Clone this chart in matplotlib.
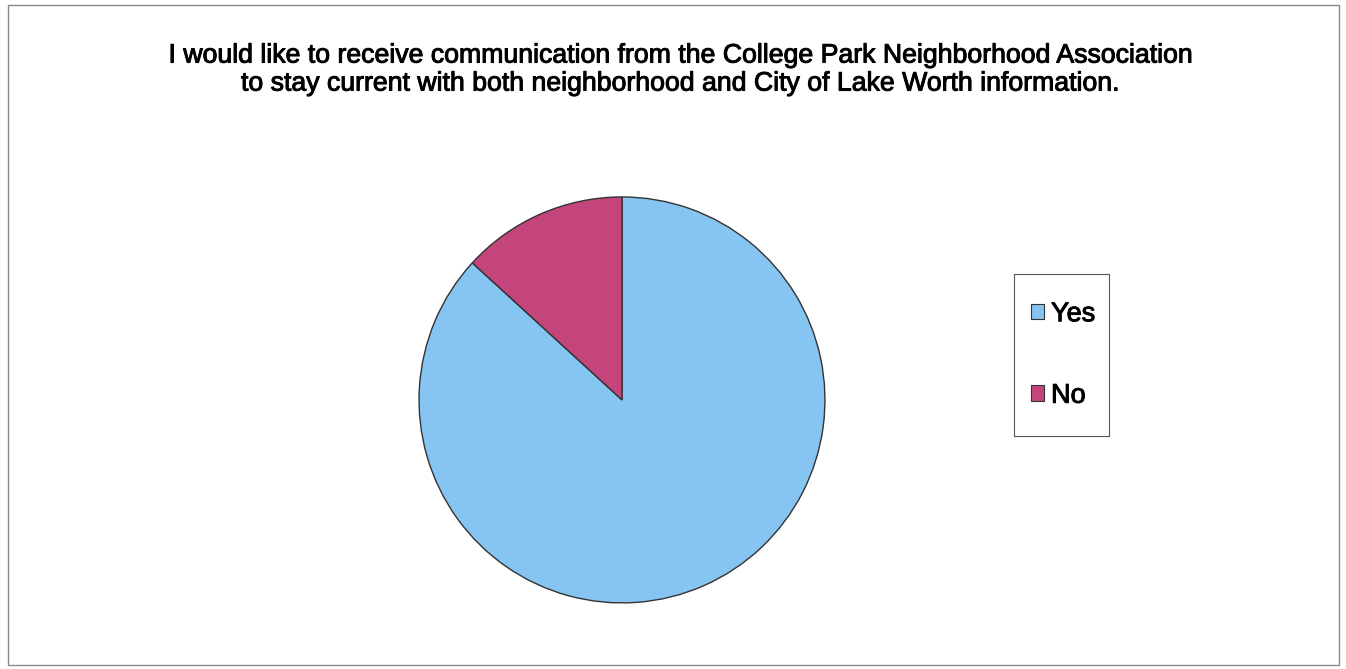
import matplotlib.pyplot as plt
import matplotlib.patheffects as pe
from matplotlib.patches import Rectangle

# survey answers (share of respondents)
labels = ["Yes", "No"]
shares = [86.8, 13.2]
colors = ["#86C5F2", "#C4457C"]

title = ("I would like to receive communication from the College Park Neighborhood Association\n"
         "to stay current with both neighborhood and City of Lake Worth information.")

plt.rcParams['font.family'] = ['Liberation Sans', 'DejaVu Sans']

W, H = 1346, 669
fig = plt.figure(figsize=(W / 100, H / 100), dpi=100)
fig.patch.set_facecolor("white")

# thin frame around the whole chart area
fig.patches.append(Rectangle((0.006, 0.006), 0.989, 0.986, transform=fig.transFigure,
                             fill=False, edgecolor="#8a8a8a", linewidth=1.0))

heavy = [pe.withStroke(linewidth=0.7, foreground="black")]
t = fig.text(0.505, 0.896, title, ha="center", va="center", fontsize=19.2, linespacing=1.1)
t.set_path_effects(heavy)

ax = fig.add_axes([0.3098, 0.0957, 0.3046, 0.613])
wedges, _ = ax.pie(shares, colors=colors, startangle=90, counterclock=False, radius=1,
                   wedgeprops=dict(edgecolor="#333333", linewidth=1.0))
ax.set_xlim(-1.01, 1.01)
ax.set_ylim(-1.01, 1.01)
ax.set_aspect("equal")

# legend box drawn separately so its size can match the original
fig.patches.append(Rectangle((1014 / W, 1 - 436 / H), 95 / W, 162 / H, transform=fig.transFigure,
                             fill=False, edgecolor="#555555", linewidth=0.8))
leg = fig.legend(wedges, labels, loc="center", bbox_to_anchor=(1063 / W, 1 - 355 / H),
                 prop=dict(size=19.5), frameon=False,
                 handlelength=0.5, handleheight=0.5, handletextpad=0.25,
                 labelspacing=2.05, borderpad=0.2, borderaxespad=0)
for h in leg.legend_handles:
    h.set_edgecolor("#333333")
    h.set_linewidth(0.8)
for txt in leg.get_texts():
    txt.set_path_effects(heavy)

fig.savefig("out.png", dpi=100)
